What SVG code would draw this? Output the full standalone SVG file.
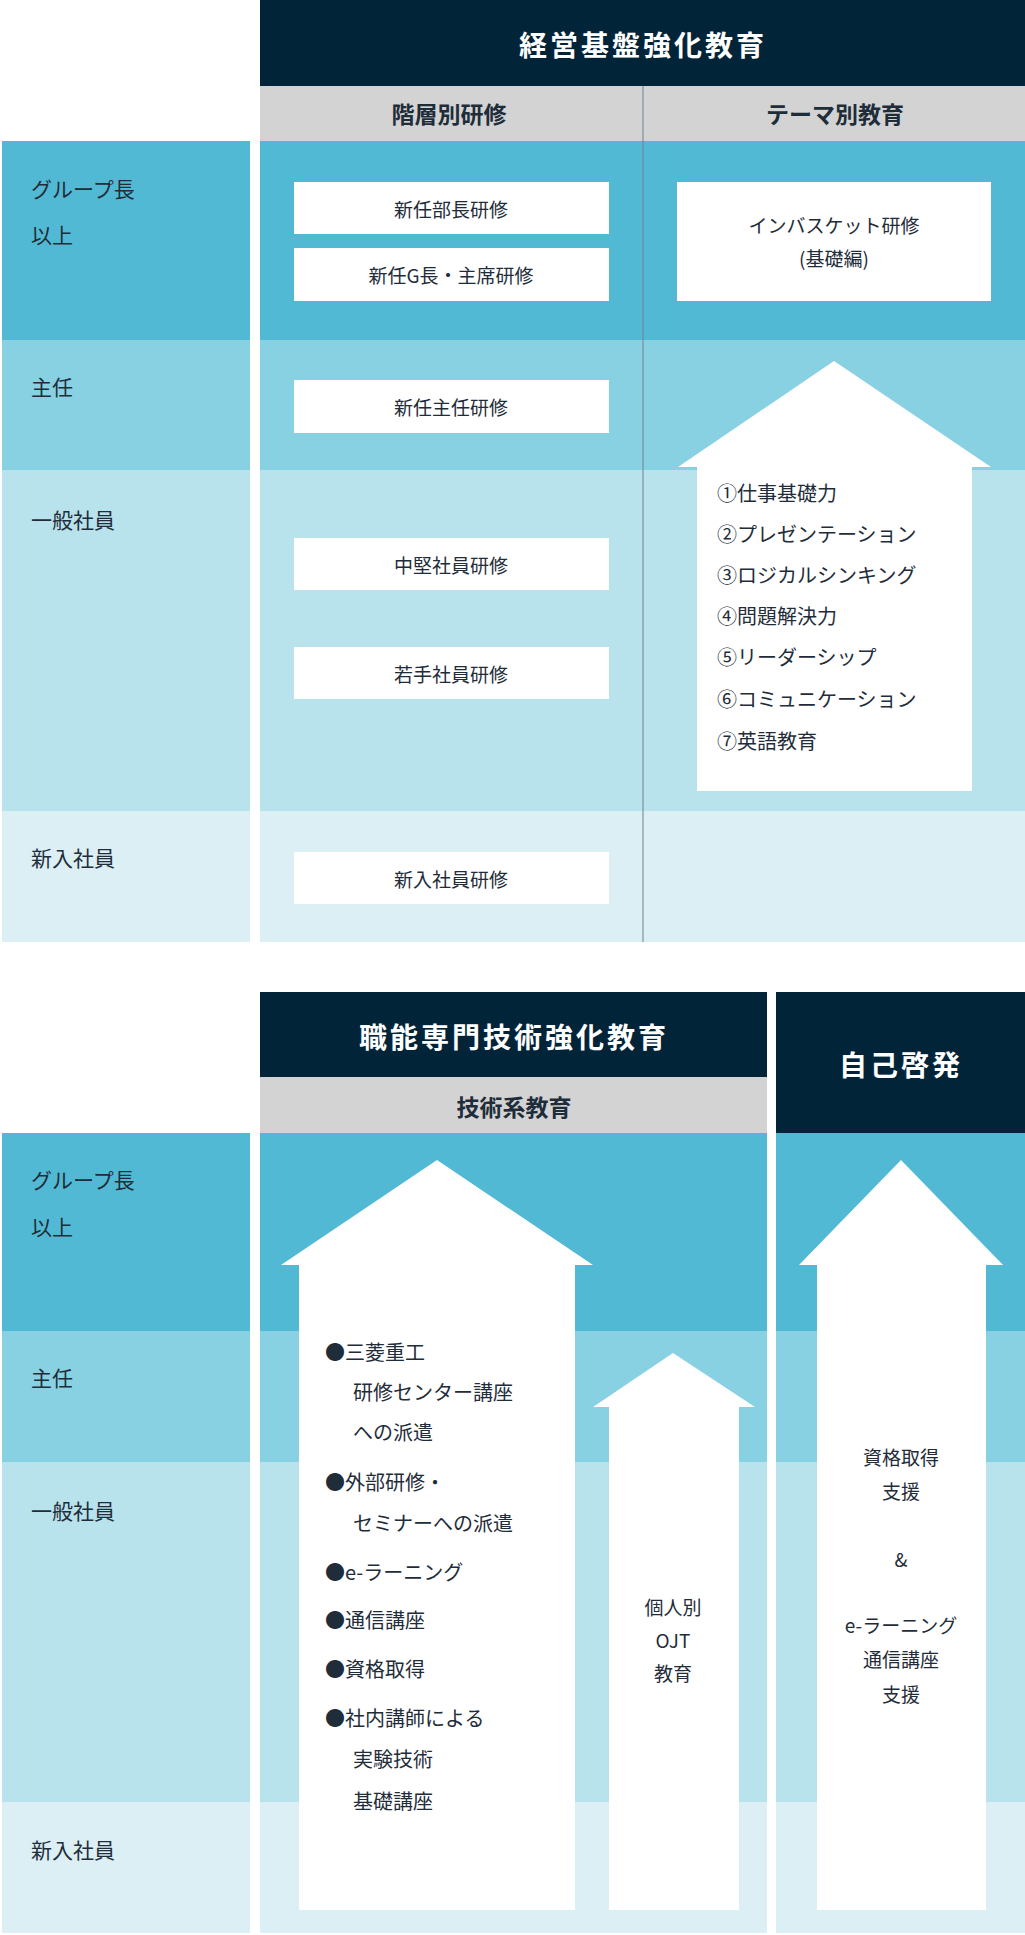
<svg xmlns="http://www.w3.org/2000/svg" width="1025" height="1935" viewBox="0 0 1025 1935">
<style>
text{font-family:"Noto Sans CJK JP","Noto Sans",sans-serif;fill:#1f2d3a;dominant-baseline:central}
.hd{fill:#022439}.gr{fill:#d3d3d3}
.b1{fill:#52b9d4}.b2{fill:#88d1e2}.b3{fill:#b8e3ed}.b4{fill:#dbeff5}
.t{font-size:28px;font-weight:bold;fill:#fff;letter-spacing:3px}
.st{font-size:23px;font-weight:bold}
.lb{font-size:21px}
.bx{font-size:19px;text-anchor:middle}
.li{font-size:20px}
.w{fill:#fff}
</style>
<g id="bands">
<rect x="2" y="141" width="248" height="199" class="b1"/><rect x="2" y="340" width="248" height="130" class="b2"/><rect x="2" y="470" width="248" height="341" class="b3"/><rect x="2" y="811" width="248" height="131" class="b4"/>
<rect x="260" y="141" width="765" height="199" class="b1"/><rect x="260" y="340" width="765" height="130" class="b2"/><rect x="260" y="470" width="765" height="341" class="b3"/><rect x="260" y="811" width="765" height="131" class="b4"/>
<rect x="2" y="1133" width="248" height="198" class="b1"/><rect x="2" y="1331" width="248" height="131" class="b2"/><rect x="2" y="1462" width="248" height="340" class="b3"/><rect x="2" y="1802" width="248" height="131" class="b4"/>
<rect x="260" y="1133" width="507" height="198" class="b1"/><rect x="260" y="1331" width="507" height="131" class="b2"/><rect x="260" y="1462" width="507" height="340" class="b3"/><rect x="260" y="1802" width="507" height="131" class="b4"/>
<rect x="776" y="1133" width="249" height="198" class="b1"/><rect x="776" y="1331" width="249" height="131" class="b2"/><rect x="776" y="1462" width="249" height="340" class="b3"/><rect x="776" y="1802" width="249" height="131" class="b4"/>
</g>
<g id="headers">
<rect x="260" y="0" width="765" height="86" class="hd"/><text x="643" y="44" class="t" text-anchor="middle">経営基盤強化教育</text>
<rect x="260" y="86" width="765" height="55" class="gr"/>
<text x="449" y="113" class="st" text-anchor="middle">階層別研修</text><text x="835" y="113" class="st" text-anchor="middle">テーマ別教育</text>
<line x1="643" y1="86" x2="643" y2="942" stroke="#6f8290" stroke-width="1"/>
<rect x="260" y="992" width="507" height="85" class="hd"/><text x="514" y="1036" class="t" text-anchor="middle">職能専門技術強化教育</text>
<rect x="260" y="1077" width="507" height="56" class="gr"/><text x="514" y="1106" class="st" text-anchor="middle">技術系教育</text>
<rect x="776" y="992" width="249" height="141" class="hd"/><text x="901" y="1064" class="t" text-anchor="middle">自己啓発</text>
</g>
<g id="labels" class="lb">
<text x="31" y="188" class="lb">グループ長</text><text x="31" y="234" class="lb">以上</text>
<text x="31" y="386" class="lb">主任</text><text x="31" y="519" class="lb">一般社員</text><text x="31" y="857" class="lb">新入社員</text>
<text x="31" y="1179" class="lb">グループ長</text><text x="31" y="1226" class="lb">以上</text>
<text x="31" y="1377" class="lb">主任</text><text x="31" y="1510" class="lb">一般社員</text><text x="31" y="1849" class="lb">新入社員</text>
</g>
<g id="boxes">
<g id="n1"><rect x="294" y="182" width="315" height="52" class="w"/><text x="451" y="208" class="bx">新任部長研修</text></g>
<g id="n2"><rect x="294" y="248" width="315" height="53" class="w"/><text x="451" y="274" class="bx">新任G長・主席研修</text></g>
<g id="n3"><rect x="294" y="380" width="315" height="53" class="w"/><text x="451" y="406" class="bx">新任主任研修</text></g>
<g id="n4"><rect x="294" y="538" width="315" height="52" class="w"/><text x="451" y="564" class="bx">中堅社員研修</text></g>
<g id="n5"><rect x="294" y="647" width="315" height="52" class="w"/><text x="451" y="673" class="bx">若手社員研修</text></g>
<g id="n6"><rect x="294" y="852" width="315" height="52" class="w"/><text x="451" y="878" class="bx">新入社員研修</text></g>
<g id="n7"><rect x="677" y="182" width="314" height="119" class="w"/><text x="834" y="224" class="bx">インバスケット研修</text><text x="834" y="257" class="bx">(基礎編)</text></g>
</g>
<g id="arrows" class="w">
<g id="a1"><polygon points="834,361 991,467 972,467 972,791 697,791 697,467 678,467" class="w"/>
<text x="717" y="492" class="li">①仕事基礎力</text><text x="717" y="533" class="li">②プレゼンテーション</text><text x="717" y="574" class="li">③ロジカルシンキング</text><text x="717" y="615" class="li">④問題解決力</text><text x="717" y="656" class="li">⑤リーダーシップ</text><text x="717" y="698" class="li">⑥コミュニケーション</text><text x="717" y="740" class="li">⑦英語教育</text></g>
<g id="a2"><polygon points="437,1160 593,1265 575,1265 575,1910 299,1910 299,1265 281,1265" class="w"/>
<text x="325" y="1351" class="li">●三菱重工</text><text x="353" y="1391" class="li">研修センター講座</text><text x="353" y="1431" class="li">への派遣</text>
<text x="325" y="1481" class="li">●外部研修・</text><text x="353" y="1522" class="li">セミナーへの派遣</text>
<text x="325" y="1571" class="li">●e-ラーニング</text><text x="325" y="1619" class="li">●通信講座</text><text x="325" y="1668" class="li">●資格取得</text>
<text x="325" y="1717" class="li">●社内講師による</text><text x="353" y="1758" class="li">実験技術</text><text x="353" y="1800" class="li">基礎講座</text></g>
<g id="a3"><polygon points="673,1353 755,1407 739,1407 739,1910 609,1910 609,1407 593,1407" class="w"/>
<text x="673" y="1606" class="bx">個人別</text><text x="673" y="1639" class="bx">OJT</text><text x="673" y="1672" class="bx">教育</text></g>
<g id="a4"><polygon points="901,1160 1003,1265 986,1265 986,1910 817,1910 817,1265 799,1265" class="w"/>
<text x="901" y="1456" class="bx">資格取得</text><text x="901" y="1490" class="bx">支援</text><text x="901" y="1558" class="bx">&amp;</text>
<text x="901" y="1624" class="bx">e-ラーニング</text><text x="901" y="1658" class="bx">通信講座</text><text x="901" y="1693" class="bx">支援</text></g>
</g>
</svg>
